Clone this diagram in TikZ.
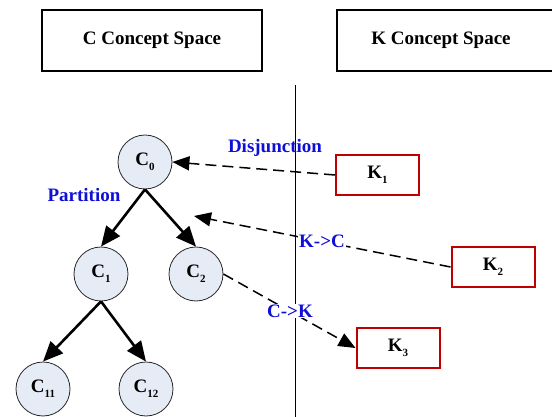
\documentclass[tikz,border=0pt]{standalone}
\usepackage{fontspec}
\setmainfont{Liberation Serif}
\usetikzlibrary{arrows.meta}
\definecolor{cfill}{RGB}{230,236,246}
\definecolor{kred}{RGB}{192,0,0}
\definecolor{lblue}{RGB}{15,15,215}
\tikzset{
  headbox/.style={draw=black, line width=2pt, minimum height=61pt, inner sep=0pt},
  headtext/.style={font=\bfseries\fontsize{19}{22}\selectfont, inner sep=0pt},
  cnode/.style={circle, draw={rgb,255:red,40;green,40;blue,40}, line width=0.8pt, fill=cfill, minimum size=54pt, inner sep=0pt, font=\bfseries\fontsize{19}{22}\selectfont},
  knode/.style={draw=kred, line width=2pt, minimum width=83pt, minimum height=40pt, inner sep=0pt, font=\bfseries\fontsize{19}{22}\selectfont},
  solidarrow/.style={line width=2.6pt, -{Triangle[length=20pt,width=17pt]}},
  dasharrow/.style={line width=1.5pt, dash pattern=on 11pt off 6pt, -{Triangle[length=17pt,width=14pt]}},
  bluelbl/.style={text=lblue, font=\bfseries\fontsize{19}{22}\selectfont, inner sep=1pt},
}
\newcommand{\sbs}[1]{\raisebox{-0.25em}{\fontsize{11}{12}\selectfont #1}}
\begin{document}
\begin{tikzpicture}[x=1pt,y=-1pt]
\useasboundingbox (0,0) rectangle (552,417);
% headings
\node[headbox, minimum width=220pt] (cspace) at (152,40.5) {};
\node[headtext] (ctext) at (152,40.5) {C Concept Space};
\node[headbox, minimum width=240pt, anchor=west] (kspace) at (336,40.5) {};
\node[headtext] (ktext) at (441,40.5) {K Concept Space};
% divider
\coordinate (ltop) at (295,85);
\coordinate (lbot) at (295,417);
\draw[line width=1pt] (ltop) -- (lbot);
% C nodes
\node[cnode] (c0) at (145,162) {C\sbs{0}};
\node[cnode] (c1) at (101,274) {C\sbs{1}};
\node[cnode] (c2) at (196,274) {C\sbs{2}};
\node[cnode] (c11) at (43,389) {C\sbs{11}};
\node[cnode] (c12) at (146,389) {C\sbs{12}};
% K nodes
\node[knode] (k1) at (377.5,175) {K\sbs{1}};
\node[knode] (k2) at (493,267) {K\sbs{2}};
\node[knode] (k3) at (398,348) {K\sbs{3}};
% tree edges
\draw[solidarrow] (c0.south) -- (c1.north);
\draw[solidarrow] (c0.south) -- (c2.north);
\draw[solidarrow] (c1.south) -- (c11.north);
\draw[solidarrow] (c1.south) -- (c12.north);
% dashed edges
\coordinate (kcend) at (194,216);
\draw[dasharrow] (k1.west) -- (c0.east);
\draw[dasharrow] (k2.west) -- (kcend);
\draw[dasharrow] (c2.east) -- (k3.west);
% labels
\node[bluelbl, anchor=base] (disj) at (275,153) {Disjunction};
\node[bluelbl, anchor=base] (part) at (84,202) {Partition};
\node[bluelbl, fill=white] (kc) at (322,241) {K-{>}C};
\node[bluelbl, fill=white] (ck) at (290,311) {C-{>}K};
\end{tikzpicture}
\end{document}
